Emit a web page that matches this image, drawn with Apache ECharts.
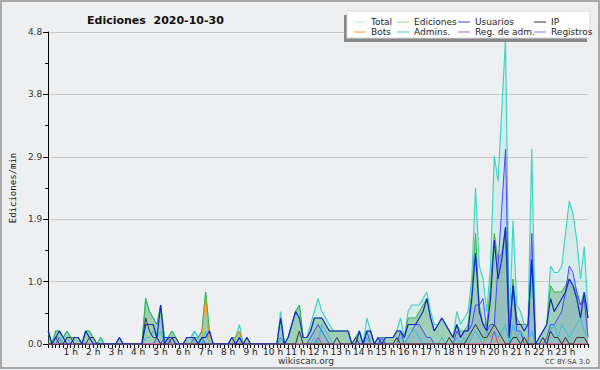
<!DOCTYPE html>
<html>
<head>
<meta charset="utf-8">
<script src="https://cdn.jsdelivr.net/npm/echarts@6/dist/echarts.min.js"></script>
<style>
  html, body { margin: 0; padding: 0; background: #eeeff0; }
  #chart { width: 600px; height: 370px; }
</style>
</head>
<body>
<div id="chart"></div>
<script>
// edits per minute, 10-minute steps, 00:00 .. 24:00 (145 points)
var hourLabels = ['1 h','2 h','3 h','4 h','5 h','6 h','7 h','8 h','9 h','10 h','11 h','12 h',
  '13 h','14 h','15 h','16 h','17 h','18 h','19 h','20 h','21 h','22 h','23 h'];
var yTicks = [0, 0.96, 1.92, 2.88, 3.84, 4.8];

var total = [
  .2,0,.2,.2,.1,.2, .1,.1,.1,0,.2,.2, .1,0,.1,0,0,0, 0,.1,0,0,0,0, 0,0,.7,.5,.4,.3, .6,.1,.1,.2,.1,0,
  0,.1,.1,.2,.1,.2, .8,.2,0,0,0,0, 0,.1,.1,.3,0,.1, 0,0,0,0,0,0, 0,0,.5,0,.1,.3, .5,.6,.1,.1,.3,.5,
  .7,.5,.4,.3,.2,.2, .2,.2,.2,0,.1,.2, 0,.4,.2,0,.1,.1, .1,.1,.1,.2,.4,.1, .5,.6,.6,.6,.7,.8, .5,.3,.3,.4,.3,.2,
  .1,.5,.3,.4,.5,1.0, 2.4,1.2,1.0,.5,1.2,2.9, 2.5,3.6,4.7,.2,1.9,.6, .5,.3,.3,3.0,0,.1, .2,.3,1.2,1.1,1.1,1.2, 1.7,2.2,2.0,1.6,1.0,1.5,
  .5
];
var ediciones = [
  .2,0,.2,.2,.1,.2, .1,.1,.1,0,.2,.2, .1,0,.1,0,0,0, 0,.1,0,0,0,0, 0,0,.7,.5,.4,.3, .6,.1,.1,.2,.1,0,
  0,.1,.1,.1,.1,.2, .8,.2,0,0,0,0, 0,.1,.1,.2,0,.1, 0,0,0,0,0,0, 0,0,.4,0,.1,.3, .5,.6,.1,.1,.2,.4,
  .4,.4,.3,.2,.2,.2, .2,.2,.2,0,.1,.2, 0,.2,.2,0,.1,.1, .1,.1,.1,.2,.2,.1, .4,.4,.4,.5,.6,.7, .4,.2,.3,.4,.3,.2,
  .1,.3,.2,.2,.3,.8, 1.7,.6,.3,.3,.9,1.7, 1.3,1.4,1.8,.1,1.0,.4, .3,.3,.3,1.3,0,.1, .2,.3,.9,.8,.8,.8, .9,1.0,.9,.8,.6,.8,
  .4
];
var usuarios = [
  .2,0,.1,.2,.1,0, 0,.1,.1,0,.2,.1, 0,0,0,0,0,0, 0,.1,0,0,0,0, 0,0,.3,.3,.3,.1, .6,0,.1,.1,0,0,
  0,.1,.1,.1,0,.1, .1,.2,0,0,0,0, 0,.1,0,.1,0,.1, 0,0,0,0,0,0, 0,0,.4,0,.1,.3, .5,.4,.1,.1,.2,.4,
  .4,.4,.3,.2,.2,.2, .2,.2,.2,0,0,.2, 0,.2,.2,0,.1,0, .1,.1,.1,.2,.2,.1, .3,.3,.3,.4,.5,.7, .4,.2,.3,.4,.3,.2,
  .1,.3,.1,.2,.2,.7, 1.4,.5,.3,.2,.7,1.6, 1.0,1.3,1.8,.1,.9,.3, .3,.2,.3,1.3,0,.1, .2,.3,.7,.5,.6,.7, .8,1.0,.9,.7,.4,.8,
  .4
];
var ip = [
  0,0,.1,0,0,.1, .1,0,0,0,0,.1, .1,0,0,0,0,0, 0,0,0,0,0,0, 0,0,.4,.2,.1,.1, 0,0,0,.1,.1,0,
  0,0,0,0,0,0, 0,0,0,0,0,0, 0,0,0,0,0,0, 0,0,0,0,0,0, 0,0,0,0,0,0, 0,.2,0,0,0,0,
  0,0,0,0,0,.1, 0,0,0,0,.1,0, 0,0,0,0,0,0, 0,0,0,.1,0,0, 0,0,0,0,0,0, 0,0,0,0,0,.1,
  0,0,0,0,.1,.2, .3,.2,.1,.1,.2,.3, .2,.1,0,0,.1,.1, 0,.1,0,0,0,0, .1,0,.2,.1,.1,0, .1,0,0,.1,.1,.1,
  0
];
var bots = [
  0,0,0,0,0,0, 0,0,0,0,0,0, 0,0,0,0,0,0, 0,0,0,0,0,0, 0,0,0,0,0,0, 0,0,0,0,0,0,
  0,0,0,0,0,.1, .7,0,0,0,0,0, 0,0,.1,.2,0,0, 0,0,0,0,0,0, 0,0,0,0,0,0, 0,0,0,0,0,0,
  0,0,0,0,0,0, 0,0,0,0,0,0, 0,0,0,0,0,0, 0,0,0,0,0,0, 0,0,0,0,0,0, 0,0,0,0,0,0,
  0,0,0,0,0,0, 0,0,0,.1,.2,0, .1,0,0,0,0,0, 0,0,.1,0,0,0, 0,0,0,0,0,0, 0,0,0,0,0,0,
  0
];
var admins = [
  0,0,.1,.1,0,.1, 0,0,0,0,0,0, 0,0,.1,0,0,0, 0,0,0,0,0,0, 0,0,.1,.1,.2,.1, .2,0,0,0,0,0,
  0,0,0,.2,.1,0, .2,0,0,0,0,0, 0,0,0,.1,0,0, 0,0,0,0,0,0, 0,0,.1,0,0,0, 0,0,0,0,0,.1,
  0,.3,.2,.1,0,0, 0,0,0,0,0,0, 0,.1,0,0,0,0, 0,0,0,0,.1,0, .1,.2,.2,.1,0,0, 0,0,0,.1,0,0,
  0,.1,0,.1,0,.1, .2,.1,0,.2,.1,.2, .1,.2,.3,0,.3,.1, .2,.1,0,.2,0,0, 0,0,.2,.3,.1,.3, .2,.1,.2,.3,.4,.2,
  .1
];
var regAdm = [
  0,0,0,0,0,0, 0,0,0,0,0,0, 0,0,0,0,0,0, 0,0,0,0,0,0, 0,0,0,0,0,0, 0,0,0,0,0,0,
  0,0,0,0,0,0, 0,0,0,0,0,0, 0,0,0,0,0,0, 0,0,0,0,0,0, 0,0,0,0,0,0, 0,0,0,0,0,0,
  .1,0,0,0,0,0, 0,0,0,0,0,0, 0,0,0,0,0,0, 0,0,0,0,0,0, 0,0,0,0,0,0, 0,0,0,0,0,0,
  0,0,0,0,0,0, 0,0,0,0,0,.2, 0,0,0,0,0,0, 0,0,0,0,0,0, 0,0,0,0,0,0, 0,0,0,0,0,0,
  0
];
var registros = [
  0,0,0,.1,0,0, 0,0,0,0,0,0, 0,0,0,0,0,0, 0,0,0,0,0,0, 0,0,0,0,0,.1, 0,.1,.1,0,0,0,
  0,0,0,.1,0,.1, 0,0,0,0,0,0, 0,0,0,.1,0,0, 0,0,0,0,0,0, 0,0,.1,0,0,0, 0,0,0,0,.1,.2,
  .3,.2,.1,0,0,0, 0,0,0,0,0,0, 0,.2,0,0,0,.1, 0,0,0,0,.2,0, .1,.2,.3,.3,.2,.1, .1,0,0,0,0,0,
  0,.2,.1,.2,.2,.3, .6,.6,.7,.2,.3,.3, 1.2,2.1,3.0,.1,.9,.2, .2,0,0,1.7,0,0, 0,.1,.3,.3,.4,.5, .8,1.2,1.1,.8,.6,.7,
  .1
];

var slots = total.map(function(v, i) { return String(i); });

var font = 'DejaVu Sans';
var chart = echarts.init(document.getElementById('chart'), null, { renderer: 'svg' });

function lineSeries(name, data, color, width, fill) {
  var s = {
    name: name,
    type: 'line',
    data: data,
    symbol: 'none',
    showSymbol: false,
    lineStyle: { color: color, width: width },
    itemStyle: { color: color },
    emphasis: { disabled: true }
  };
  if (fill) s.areaStyle = { color: fill, opacity: 1 };
  return s;
}

function legendCol(left, names, colors) {
  return {
    orient: 'vertical',
    left: left,
    top: 12,
    z: 20,
    icon: 'rect',
    itemWidth: 12,
    itemHeight: 1,
    itemGap: 0,
    selectedMode: false,
    data: names.map(function(n, i) { return { name: n, itemStyle: { color: colors[i] } }; }),
    textStyle: { fontFamily: font, fontSize: 9, color: '#222', lineHeight: 10, padding: [0, 0, 0, 0] }
  };
}

chart.setOption({
  animation: false,
  backgroundColor: '#eeeff0',
  title: {
    text: 'Ediciones  2020-10-30',
    left: 82,
    top: 10,
    textStyle: { fontFamily: font, fontSize: 11, fontWeight: 'bold', color: '#111' }
  },
  legend: [
    legendCol(349, ['Total', 'Bots'], ['#a8e4e4', '#f0a030']),
    legendCol(392, ['Ediciones', 'Admins.'], ['#88d088', '#40c8e0']),
    legendCol(453, ['Usuarios', 'Reg. de adm.'], ['#3838d8', '#c848d8']),
    legendCol(529, ['IP', 'Registros'], ['#333333', '#7878f0'])
  ],
  grid: { left: 45, right: 12, top: 32, bottom: 26 },
  xAxis: {
    type: 'category',
    data: slots,
    boundaryGap: false,
    axisLine: { lineStyle: { color: '#000', width: 1 } },
    axisTick: { interval: 0, length: 4, lineStyle: { color: '#000' } },
    axisLabel: {
      interval: function(idx) { return idx % 6 === 0 && idx > 0 && idx < 144; },
      formatter: function(v, idx) { return hourLabels[idx / 6 - 1]; },
      fontFamily: font, fontSize: 9, color: '#222', margin: 3
    },
    splitLine: { show: false }
  },
  yAxis: {
    type: 'value',
    min: 0,
    max: yTicks[yTicks.length - 1],
    interval: yTicks[1],
    name: 'Ediciones/min',
    nameLocation: 'middle',
    nameGap: 31,
    nameTextStyle: { fontFamily: 'DejaVu Sans Mono', fontSize: 9, color: '#111' },
    axisLine: { show: true, lineStyle: { color: '#000' } },
    axisTick: { show: true, length: 5, lineStyle: { color: '#000' } },
    minorTick: { show: true, splitNumber: 2, length: 3, lineStyle: { color: '#000' } },
    axisLabel: {
      formatter: function(v) { return v.toFixed(1); },
      fontFamily: font, fontSize: 9, color: '#333', margin: 6
    },
    splitLine: { show: true, lineStyle: { color: '#c8c8c8', width: 1 } }
  },
  series: [
    lineSeries('Total', total, '#40d4c8', 1.2, 'rgba(64,212,200,0.13)'),
    lineSeries('Ediciones', ediciones, '#3cb043', 1, 'rgba(80,170,105,0.42)'),
    lineSeries('Registros', registros, '#4848ff', 1, 'rgba(90,90,255,0.12)'),
    lineSeries('Admins.', admins, '#30c0dc', 1),
    lineSeries('Bots', bots, '#f09a18', 1),
    lineSeries('Reg. de adm.', regAdm, '#c040d0', 1),
    lineSeries('IP', ip, '#333333', 1),
    lineSeries('Usuarios', usuarios, '#1428c8', 1.2)
  ],
  graphic: [
    { type: 'rect', z: 10, shape: { x: 344, y: 15, width: 243, height: 27 }, style: { fill: '#888888' } },
    { type: 'rect', z: 11, shape: { x: 347, y: 11, width: 243, height: 27 }, style: { fill: '#ffffff', stroke: '#d8d8d8', lineWidth: 1 } },
    { type: 'text', left: 278, top: 356, style: { text: 'wikiscan.org', font: '9px "DejaVu Sans"', fill: '#333' } },
    { type: 'text', right: 10, top: 358, style: { text: 'CC BY-SA 3.0', font: '7px "DejaVu Sans"', fill: '#444' } },
    { type: 'rect', z: 12, shape: { x: 1, y: 1, width: 598, height: 367 }, style: { fill: 'none', stroke: '#a8a8a8', lineWidth: 2 } }
  ]
});
</script>
</body>
</html>
